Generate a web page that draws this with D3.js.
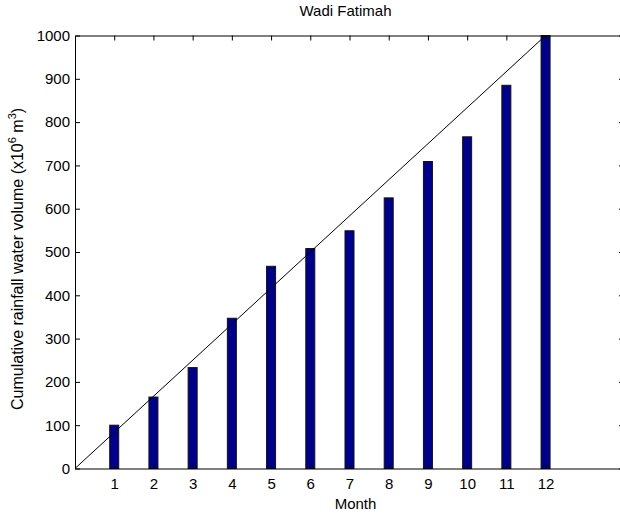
<!DOCTYPE html>
<html>
<head>
<meta charset="utf-8">
<script src="https://cdn.jsdelivr.net/npm/d3@7"></script>
<style>
  html, body { margin: 0; padding: 0; background: #fff; }
  svg { display: block; }
  text { font-family: "Liberation Sans", Arial, sans-serif; fill: #000; }
</style>
</head>
<body>
<svg id="chart" width="620" height="513"></svg>
<script>
// Monthly cumulative rainfall water volume, Wadi Fatimah (x10^6 m^3)
const months = [1, 2, 3, 4, 5, 6, 7, 8, 9, 10, 11, 12];
const cumulativeVolume = [100, 165, 233, 347, 467, 508, 549, 625, 709, 766, 885, 1000];
// Reference straight line from origin to the final total
const lineX = [0, 12];
const lineY = [0, 1000];
const yTicks = [0, 100, 200, 300, 400, 500, 600, 700, 800, 900, 1000];
const xTicks = months;

const svg = d3.select("#chart");
const m = { left: 75, right: 624, top: 35.5, bottom: 468.5 };

const x = d3.scaleLinear().domain([0, 14]).range([m.left, m.right]);
const y = d3.scaleLinear().domain([0, 1000]).range([m.bottom, m.top]);
const tickLen = 5;
const barW = 9;
const fontSize = "15px";

// Bars
svg.append("g").selectAll("rect")
  .data(months.map((mo, i) => ({ mo, v: cumulativeVolume[i] })))
  .join("rect")
  .attr("x", d => x(d.mo) - barW / 2)
  .attr("y", d => y(d.v))
  .attr("width", barW)
  .attr("height", d => y(0) - y(d.v))
  .attr("fill", "#00008f")
  .attr("stroke", "#111")
  .attr("stroke-width", 1);

// Diagonal reference line
svg.append("path")
  .datum(lineX.map((v, i) => [v, lineY[i]]))
  .attr("d", d3.line().x(d => x(d[0])).y(d => y(d[1])))
  .attr("fill", "none")
  .attr("stroke", "#000")
  .attr("stroke-width", 1);

// Axes (inward ticks on all four sides)
const axStyle = g => {
  g.select(".domain").attr("stroke", "#000").attr("stroke-width", 1);
  g.selectAll(".tick line").attr("stroke", "#000");
  g.selectAll("text").style("font-family", "Liberation Sans, Arial, sans-serif")
    .style("font-size", fontSize).attr("fill", "#000");
};

svg.append("g")
  .attr("transform", `translate(0,${m.bottom})`)
  .call(d3.axisBottom(x).tickValues(xTicks).tickSize(-tickLen).tickPadding(10).tickSizeOuter(0))
  .call(axStyle);

svg.append("g")
  .attr("transform", `translate(0,${m.top})`)
  .call(d3.axisTop(x).tickValues(xTicks).tickSize(-tickLen).tickFormat("").tickSizeOuter(0))
  .call(axStyle);

svg.append("g")
  .attr("transform", `translate(${m.left},0)`)
  .call(d3.axisLeft(y).tickValues(yTicks).tickFormat(d3.format("d"))
    .tickSize(-tickLen).tickPadding(5).tickSizeOuter(0))
  .call(axStyle);

svg.append("g")
  .attr("transform", `translate(${m.right},0)`)
  .call(d3.axisRight(y).tickValues(yTicks).tickSize(-tickLen).tickFormat("").tickSizeOuter(0))
  .call(axStyle);

// Title and axis labels
const cx = (m.left + m.right) / 2;
svg.append("text")
  .attr("x", cx - 4).attr("y", 16)
  .attr("text-anchor", "middle")
  .style("font-size", fontSize)
  .text("Wadi Fatimah");

svg.append("text")
  .attr("x", cx + 6).attr("y", 509)
  .attr("text-anchor", "middle")
  .style("font-size", fontSize)
  .text("Month");

const yl = svg.append("text")
  .attr("transform", "translate(23,410) rotate(-90)")
  .attr("text-anchor", "start")
  .style("font-size", "16px");
yl.append("tspan").text("Cumulative rainfall water volume (x10");
yl.append("tspan").attr("dy", -7).style("font-size", "11px").text("6");
yl.append("tspan").attr("dy", 7).text(" m");
yl.append("tspan").attr("dy", -7).style("font-size", "11px").text("3");
yl.append("tspan").attr("dy", 7).text(")");
</script>
</body>
</html>
